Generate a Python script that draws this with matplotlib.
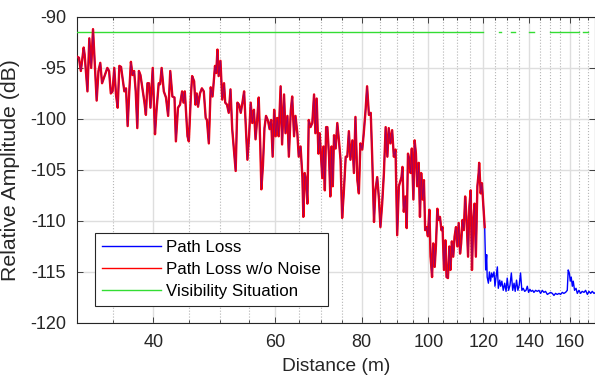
import matplotlib
matplotlib.use('Agg')
import matplotlib.pyplot as plt
from matplotlib.ticker import NullFormatter

plt.rcParams['font.family'] = ['Liberation Sans', 'DejaVu Sans']
plt.rcParams['axes.unicode_minus'] = False

# line-of-sight part (both curves overlap here)
dist_los = [31.0, 31.2, 31.4, 31.7, 31.8, 32.1, 32.3, 32.5, 32.7, 32.9,
            33.1, 33.3, 33.5, 33.7, 33.9, 34.3, 34.5, 34.7, 34.9, 35.1,
            35.3, 35.5, 35.7, 35.9, 36.3, 36.5, 36.7, 36.9, 37.1, 37.3,
            37.5, 37.7, 37.9, 38.1, 38.3, 38.6, 38.8, 39.0, 39.2, 39.4,
            39.6, 39.9, 40.2, 40.4, 40.7, 40.9, 41.1, 41.4, 41.7, 42.0,
            42.3, 42.6, 42.9, 43.1, 43.4, 43.7, 44.0, 44.2, 44.4,
            44.8, 45.0, 45.3, 45.5, 45.8, 46.0, 46.2, 46.4, 46.7, 47.0,
            47.3, 47.6, 47.8, 48.1, 48.4, 48.7, 49.1, 49.3, 49.5, 49.7,
            50.0, 50.3, 50.6, 50.8, 51.1, 51.4, 51.7, 52.0, 52.3, 52.6,
            52.9, 53.2, 53.5, 53.8, 54.1, 54.4, 54.7, 55.0, 55.3, 55.6,
            55.9, 56.2, 56.5, 56.8, 57.1, 57.3, 57.6, 57.9, 58.2, 58.6,
            58.9, 59.2, 59.5, 59.8, 60.1, 60.4, 60.7, 61.1, 61.4, 61.8,
            62.1, 62.5, 62.8, 63.2, 63.5, 63.9, 64.2, 64.6, 64.9,
            65.3, 65.7, 65.9, 66.2, 66.5, 66.8, 67.1, 67.5, 67.9, 68.3,
            68.6, 68.9, 69.3, 69.6, 69.9, 70.2, 70.5, 70.8, 71.1, 71.4,
            71.8, 72.1, 72.4, 72.7, 73.0, 73.4, 73.8, 74.2, 74.6, 75.0,
            75.4, 75.9, 76.3, 76.7, 77.1, 77.6, 78.0, 78.4, 78.9, 79.3,
            79.7, 80.2, 80.6, 81.1, 81.5, 82.0, 82.5, 82.9, 83.4, 83.8,
            84.3, 84.8, 85.2, 85.7, 86.2, 86.7, 87.2, 87.6, 88.1, 88.6,
            89.1, 89.6, 90.1, 90.6,
            91.4, 91.7, 92.1, 92.6, 93.0, 93.4, 93.8, 94.2, 94.6, 95.1,
            95.5, 95.9, 96.3, 96.8, 97.2, 97.6, 98.1, 98.5, 98.9, 99.4,
            99.8, 100.3, 100.7, 101.2, 101.6, 102.1, 102.5, 103.0, 103.4, 103.9,
            104.4, 104.8, 105.3, 105.8, 106.2, 106.7, 107.2, 107.6, 108.1, 108.6,
            109.1, 109.6, 110.1, 110.6, 111.1, 111.5, 112.0, 112.5, 113.0, 113.5,
            114.1, 114.6, 115.1, 115.6, 116.1, 116.6, 117.1, 117.7, 118.2, 118.4,
            119.0, 119.5, 120.0, 120.6]
loss_los = [-93.9, -94.0, -95.3, -93.0, -93.7, -97.3, -92.1, -95.0, -91.2, -94.7,
            -98.2, -95.3, -94.5, -96.5, -96.0, -95.0, -95.3, -97.5, -97.3, -95.0,
            -97.6, -98.9, -94.8, -94.9, -97.3, -97.0, -100.7, -97.3, -94.4, -95.7,
            -95.3, -97.3, -100.9, -95.3, -95.7, -97.3, -98.3, -99.6, -96.5, -96.5,
            -98.9, -95.0, -101.5, -99.2, -96.5, -96.6, -95.0, -97.3, -97.9, -99.7,
            -95.3, -97.8, -97.9, -102.2, -98.9, -98.6, -97.3, -98.4, -97.3,
            -101.7, -102.2, -97.8, -95.8, -96.3, -98.6, -97.5, -98.8, -97.5, -97.0,
            -97.3, -99.9, -100.1, -102.4, -96.9, -97.8, -94.8, -95.5, -93.2, -95.8,
            -94.3, -98.1, -96.5, -98.4, -98.6, -99.4, -97.1, -101.0, -103.0, -105.1,
            -98.4, -98.6, -99.4, -98.4, -97.3, -100.7, -104.0, -101.7, -98.4, -100.4,
            -99.1, -102.0, -100.1, -97.9, -102.7, -106.9, -104.6, -100.9, -99.7, -100.2,
            -101.0, -100.1, -103.7, -99.1, -101.7, -99.9, -101.7, -96.8, -102.5, -97.6,
            -101.4, -99.7, -103.7, -99.2, -97.8, -101.7, -99.7, -101.4, -103.7,
            -102.7, -105.7, -109.6, -105.3, -106.0, -108.3, -100.1, -100.8, -100.4, -97.6,
            -101.4, -98.0, -103.4, -101.4, -103.7, -105.8, -102.7, -107.0, -100.8, -100.8,
            -103.7, -107.6, -102.7, -106.6, -101.6, -102.9, -100.4, -102.1, -104.0, -109.7,
            -107.3, -103.7, -103.7, -101.2, -104.0, -102.1, -105.3, -99.8, -106.0, -107.3,
            -102.4, -103.0, -101.4, -99.1, -96.8, -99.6, -99.4, -103.7, -110.1, -107.0,
            -105.7, -107.9, -110.6, -108.3, -105.3, -100.8, -103.7, -100.9, -102.4, -101.1,
            -103.7, -103.0, -111.4, -106.6,
            -105.7, -104.7, -109.1, -107.6, -110.7, -103.4, -104.0, -105.3, -102.9, -107.9,
            -102.1, -103.4, -106.6, -104.3, -109.6, -105.3, -107.9, -106.0, -110.9, -110.6,
            -111.5, -108.9, -113.5, -115.5, -112.2, -114.5, -112.5, -108.8, -109.9, -109.6,
            -110.9, -110.6, -114.8, -111.9, -115.5, -115.6, -112.5, -114.8, -112.0, -113.5,
            -111.5, -110.6, -112.5, -110.2, -113.2, -112.2, -109.9, -110.9, -107.6, -109.6,
            -113.5, -108.6, -107.0, -114.8, -109.9, -108.3, -113.5, -106.6, -105.3, -104.3,
            -107.3, -106.3, -108.3, -110.6]

# non line-of-sight tail (only the noisy curve)
dist_tail = [121.0, 121.4, 121.6, 122.1, 122.5, 123.0, 123.4, 123.8, 124.4, 124.8,
             125.2, 125.8, 126.2, 126.8, 127.2, 127.7, 128.3, 128.9, 129.5, 130.0,
             130.6, 131.2, 131.8, 132.4, 133.0, 133.5, 134.1, 134.7, 135.3, 135.9,
             136.5, 137.1, 137.8, 138.4, 139.0, 139.6, 140.2, 140.8, 141.5, 142.1,
             142.9, 143.7, 144.5, 145.3, 146.1, 146.9, 147.7, 148.6, 149.4, 150.2,
             151.1, 151.9, 152.7, 153.6, 154.5, 155.3, 156.2, 157.0, 157.9, 158.8,
             159.3, 159.9, 160.4, 160.9, 161.5, 162.0, 162.7, 163.5, 164.2, 165.1,
             166.0, 166.9, 167.9, 168.8, 169.8, 170.7, 171.7, 172.6, 173.6, 174.5]
loss_tail = [-114.8, -113.3, -115.5, -116.1, -115.0, -115.9, -115.1, -115.5, -115.0, -116.4,
             -115.6, -114.5, -116.6, -115.8, -116.4, -115.9, -116.8, -116.1, -116.9, -115.6,
             -116.8, -116.3, -115.1, -116.8, -116.1, -116.9, -115.8, -116.8, -116.3, -115.1,
             -116.8, -116.6, -116.9, -116.8, -116.4, -117.0, -116.7, -116.9, -116.8, -117.0,
             -116.8, -116.9, -116.8, -117.1, -116.8, -117.0, -116.9, -117.2, -117.1, -117.0,
             -117.1, -117.3, -117.1, -117.2, -117.1, -117.2, -117.0, -117.1, -117.0, -116.8,
             -114.8, -115.1, -115.9, -115.5, -116.4, -115.9, -116.8, -116.6, -117.1, -116.8,
             -117.1, -116.9, -117.0, -116.8, -117.2, -116.9, -117.1, -116.9, -117.1, -117.0]

# visibility indicator: visible stretches (m)
vis_start = [31.0, 126.5, 131.8, 139.8, 149.7, 167.2]
vis_end = [120.0, 127.5, 133.3, 142.0, 165.4, 170.1]
vis_level = -91.45

xticks = [40, 60, 80, 100, 120, 140, 160]
xminor = [35, 45, 50, 55, 65, 70, 75, 85, 90, 95, 105, 110, 115,
          125, 130, 135, 145, 150, 155, 165, 170]
yticks = [-120, -115, -110, -105, -100, -95, -90]

dist_all = dist_los + dist_tail
loss_all = loss_los + loss_tail

fig = plt.figure(figsize=(5.95, 3.76), dpi=100)
ax = fig.add_subplot(111)
fig.subplots_adjust(left=0.1294, right=0.9995, top=0.955, bottom=0.141)

ax.plot(dist_all, loss_all, color='#0000ff', lw=1.0, zorder=3, label='Path Loss')
ax.plot(dist_los, loss_los, color='#ff0000', lw=1.7, zorder=4, label='Path Loss w/o Noise')
ax.plot(dist_los, loss_los, color='#0000ff', lw=0.6, alpha=0.4, zorder=5)
for i in range(len(vis_start)):
    ax.plot([vis_start[i], vis_end[i]], [vis_level, vis_level], color='#33dd33', lw=1.0,
            zorder=3, label='Visibility Situation' if i == 0 else None)

ax.set_xscale('log')
ax.set_xlim(31.0, 174.0)
ax.set_ylim(-120, -90)
ax.set_xticks(xticks, [str(t) for t in xticks])
ax.set_xticks(xminor, minor=True)
ax.xaxis.set_minor_formatter(NullFormatter())
ax.set_yticks(yticks, [str(t) for t in yticks])

ax.set_axisbelow(True)
ax.grid(which='major', color='#dedede', lw=1.0)
ax.grid(which='minor', axis='x', color='#b5b5b5', lw=0.8, ls=':')

ax.tick_params(which='both', direction='in', top=True, right=True, colors='#262626',
               labelsize=13, width=0.6)
ax.tick_params(which='major', length=4, pad=8)
ax.tick_params(which='minor', length=2.5)
for s in ax.spines.values():
    s.set_color('#262626')
    s.set_linewidth(0.8)

ax.set_xlabel('Distance (m)', fontsize=13.8, color='#262626', labelpad=5)
ax.set_ylabel('Relative Amplitude (dB)', fontsize=15.3, color='#262626', labelpad=7)

leg = ax.legend(loc='lower left', bbox_to_anchor=(0.035, 0.055), borderaxespad=0,
                fontsize=12.2, handlelength=3.5, handletextpad=0.3, labelspacing=0.42,
                borderpad=0.4, fancybox=False, edgecolor='#262626', framealpha=1)
leg.get_frame().set_linewidth(0.8)
for h in leg.get_lines():
    h.set_linewidth(1.0)

fig.savefig('out.png', dpi=100)
